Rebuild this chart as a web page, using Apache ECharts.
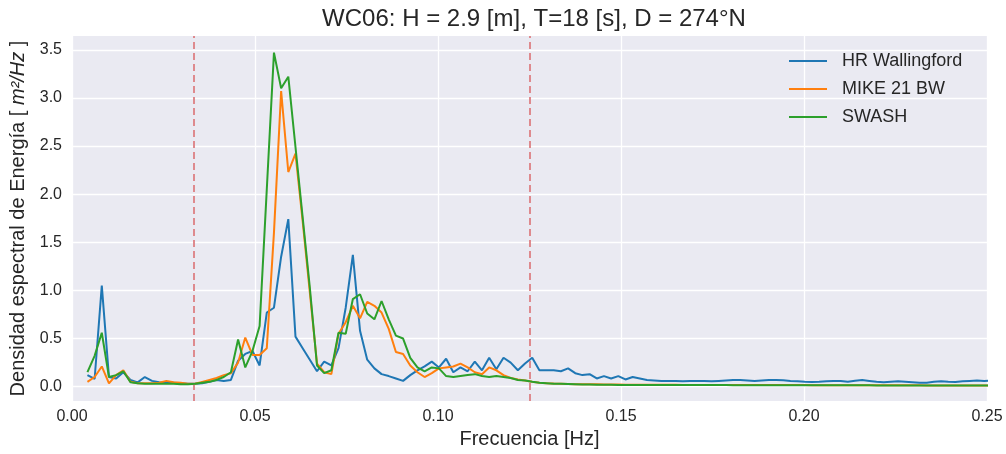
<!DOCTYPE html>
<html><head><meta charset="utf-8">
<script src="https://cdn.jsdelivr.net/npm/echarts@6/dist/echarts.min.js"></script>
<style>html,body{margin:0;padding:0;background:#fff}#c{width:1006px;height:454px}</style>
</head><body><div id="c"></div>
<script>
const freq = [
0.00422,0.00618,0.00814,0.01010,0.01206,0.01402,0.01598,0.01794,0.01990,0.02186,
0.02382,0.02578,0.02774,0.02970,0.03166,0.03362,0.03558,0.03754,0.03950,0.04146,
0.04342,0.04538,0.04734,0.04930,0.05126,0.05322,0.05518,0.05714,0.05910,0.06106,
0.06302,0.06498,0.06694,0.06890,0.07086,0.07282,0.07478,0.07674,0.07870,0.08066,
0.08262,0.08458,0.08654,0.08850,0.09046,0.09242,0.09438,0.09634,0.09830,0.10026,
0.10222,0.10418,0.10614,0.10810,0.11006,0.11202,0.11398,0.11594,0.11790,0.11986,
0.12182,0.12378,0.12574,0.12770,0.12966,0.13162,0.13358,0.13554,0.13750,0.13946,
0.14142,0.14338,0.14534,0.14730,0.14926,0.15122,0.15318,0.15514,0.15710,0.15906,
0.16102,0.16298,0.16494,0.16690,0.16886,0.17082,0.17278,0.17474,0.17670,0.17866,
0.18062,0.18258,0.18454,0.18650,0.18846,0.19042,0.19238,0.19434,0.19630,0.19826,
0.20022,0.20218,0.20414,0.20610,0.20806,0.21002,0.21198,0.21394,0.21590,0.21786,
0.21982,0.22178,0.22374,0.22570,0.22766,0.22962,0.23158,0.23354,0.23550,0.23746,
0.23942,0.24138,0.24334,0.24530,0.24726,0.24922,0.25118];

const hrWallingford = [
0.12,0.08,1.05,0.10,0.085,0.15,0.07,0.045,0.10,0.06,
0.045,0.04,0.04,0.035,0.03,0.03,0.035,0.05,0.07,0.06,
0.07,0.27,0.34,0.37,0.22,0.77,0.82,1.35,1.74,0.52,
0.40,0.28,0.16,0.26,0.22,0.40,0.82,1.37,0.58,0.28,
0.19,0.13,0.11,0.085,0.06,0.12,0.17,0.21,0.26,0.20,
0.29,0.15,0.20,0.16,0.26,0.17,0.30,0.18,0.30,0.25,
0.17,0.24,0.30,0.17,0.17,0.17,0.16,0.19,0.14,0.12,
0.13,0.085,0.11,0.085,0.11,0.075,0.10,0.085,
0.07,0.065,0.058,0.058,0.058,0.055,0.058,0.06,0.058,0.055,
0.06,0.065,0.07,0.068,0.065,0.06,0.065,0.07,0.068,0.066,
0.06,0.055,0.05,0.048,0.05,0.055,0.058,0.06,0.052,0.062,
0.07,0.06,0.05,0.045,0.05,0.055,0.05,0.045,0.04,0.04,
0.05,0.055,0.05,0.048,0.055,0.06,0.065,0.06,0.065];

const mike21bw = [
0.05,0.10,0.21,0.035,0.12,0.17,0.05,0.035,0.035,0.035,
0.04,0.06,0.045,0.04,0.03,0.03,0.05,0.07,0.09,0.12,
0.14,0.25,0.51,0.33,0.33,0.40,1.60,3.07,2.23,2.42,
1.72,0.98,0.24,0.15,0.13,0.55,0.67,0.84,0.71,0.88,
0.84,0.77,0.60,0.36,0.34,0.22,0.15,0.10,0.14,0.19,
0.20,0.21,0.24,0.20,0.15,0.13,0.20,0.17,0.12,0.09,
0.075,0.065,0.05,0.04,0.035,0.032,0.03,0.028,0.026,0.025,
0.024,0.024,0.023,0.022,0.022,0.021,0.02,0.02,0.02,0.019,
0.019,0.019,0.019,0.018,0.018,0.018,0.018,0.018,0.017,0.017,
0.017,0.017,0.017,0.017,0.016,0.016,0.016,0.016,0.016,0.016,
0.016,0.015,0.015,0.015,0.015,0.015,0.015,0.015,0.015,0.014,
0.014,0.014,0.014,0.014,0.014,0.014,0.014,0.013,0.013,0.013,
0.013,0.013,0.013,0.013,0.013,0.012,0.012];

const swash = [
0.15,0.32,0.56,0.10,0.12,0.16,0.045,0.035,0.03,0.03,
0.03,0.03,0.03,0.025,0.025,0.03,0.04,0.05,0.07,0.10,
0.15,0.49,0.20,0.37,0.63,2.05,3.47,3.10,3.22,2.49,
1.76,1.03,0.22,0.14,0.17,0.56,0.55,0.91,0.96,0.76,
0.70,0.89,0.70,0.53,0.50,0.30,0.20,0.16,0.20,0.19,
0.11,0.10,0.11,0.12,0.13,0.11,0.10,0.11,0.10,0.09,
0.07,0.065,0.05,0.04,0.035,0.03,0.03,0.028,0.025,0.022,
0.022,0.02,0.02,0.02,0.018,0.018,0.018,0.017,0.017,0.016,
0.016,0.016,0.016,0.016,0.016,0.016,0.016,0.016,0.016,0.016,
0.015,0.015,0.015,0.015,0.015,0.015,0.015,0.015,0.015,0.015,
0.014,0.014,0.014,0.014,0.014,0.014,0.014,0.014,0.014,0.014,
0.013,0.013,0.013,0.013,0.013,0.013,0.013,0.013,0.013,0.013,
0.012,0.012,0.012,0.012,0.012,0.012,0.012];

const seriesNames = ['HR Wallingford', 'MIKE 21 BW', 'SWASH'];
const bandLimits = [1 / 30, 1 / 8];
const yTicks = [0, 0.5, 1.0, 1.5, 2.0, 2.5, 3.0, 3.5];
const titleText = 'WC06: H = 2.9 [m], T=18 [s], D = 274°N';

const colors = ['#1f77b4', '#ff7f0e', '#2ca02c'];
const FONT = '"Liberation Sans", Arial, sans-serif';
const Y_MIN = -0.15, Y_MAX = 3.643;
function pairs(v) { return freq.map((f, k) => [f, v[k]]); }

const chart = echarts.init(document.getElementById('c'), null, {renderer: 'canvas'});
const lineSeries = [hrWallingford, mike21bw, swash].map((vals, s) => ({
  name: seriesNames[s],
  type: 'line',
  data: pairs(vals),
  symbol: 'none',
  lineStyle: {width: 2, color: colors[s]},
  itemStyle: {color: colors[s]},
  z: 3 + s,
  animation: false,
  clip: true
}));
lineSeries[0].markLine = {
  silent: true, symbol: 'none', label: {show: false}, precision: 8,
  lineStyle: {color: '#de8a8e', width: 2, type: [7, 4]},
  data: bandLimits.map(x => [{coord: [x, Y_MIN]}, {coord: [x, Y_MAX]}]),
  animation: false
};

chart.setOption({
  backgroundColor: '#ffffff',
  animation: false,
  title: {
    text: titleText, left: 529, top: 2, textAlign: 'center',
    textStyle: {fontFamily: FONT, fontSize: 24, fontWeight: 'normal', color: '#262626'}
  },
  legend: {
    data: seriesNames, orient: 'vertical', left: 789, top: 52, padding: 0,
    icon: 'path://M0,0H40V2H0Z',
    itemWidth: 38, itemHeight: 2, itemGap: 10,
    textStyle: {fontFamily: FONT, fontSize: 18, color: '#262626', padding: [0, 0, 0, 10], lineHeight: 18}
  },
  grid: {left: 72, right: 19, top: 36, bottom: 48, show: true, backgroundColor: '#EAEAF2', borderWidth: 0},
  xAxis: {
    type: 'value', min: 0, max: 0.25, interval: 0.05,
    name: 'Frecuencia [Hz]', nameLocation: 'middle', nameGap: 25,
    nameTextStyle: {fontFamily: FONT, fontSize: 20, color: '#262626'},
    axisLine: {show: false}, axisTick: {show: false},
    axisLabel: {fontFamily: FONT, fontSize: 16, color: '#262626', margin: 7, formatter: v => v.toFixed(2)},
    splitLine: {show: true, lineStyle: {color: '#ffffff', width: 1.3}}
  },
  yAxis: {
    type: 'value', min: Y_MIN, max: Y_MAX,
    name: '{n|Densidad espectral de Energía [ }{i|m²/Hz}{n| ]}', nameLocation: 'middle', nameGap: 42,
    nameTextStyle: {fontFamily: FONT, fontSize: 20, color: '#262626',
      rich: {n: {fontFamily: FONT, fontSize: 20, color: '#262626'}, i: {fontFamily: FONT, fontSize: 20, fontStyle: 'italic', color: '#262626'}}},
    axisLine: {show: false},
    axisTick: {show: false, customValues: yTicks},
    axisLabel: {fontFamily: FONT, fontSize: 16, color: '#262626', margin: 10, customValues: yTicks, formatter: v => v.toFixed(1)},
    splitLine: {show: true, lineStyle: {color: '#ffffff', width: 1.3}}
  },
  series: lineSeries
});
</script></body></html>
